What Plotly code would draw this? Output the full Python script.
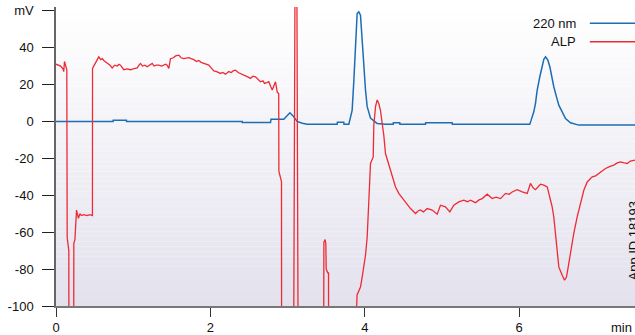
import plotly.graph_objects as go

# ---------------- data ----------------
# 220 nm trace (time in min, signal in mV)
uv_t = [0.0, 0.74, 0.741, 0.913, 0.914, 2.412, 2.413, 2.779, 2.785, 2.951, 2.99, 3.03, 3.07, 3.124, 3.19, 3.254,
        3.642, 3.645, 3.728, 3.73, 3.793, 3.815, 3.836, 3.858, 3.879, 3.901, 3.922, 3.944, 3.966, 3.987, 4.009,
        4.031, 4.074, 4.117, 4.16, 4.268, 4.368, 4.37, 4.453, 4.455, 4.786, 4.788, 5.132, 5.134, 6.137, 6.155,
        6.189, 6.211, 6.233, 6.267, 6.298, 6.319, 6.341, 6.371, 6.397, 6.418, 6.448, 6.483, 6.513, 6.557, 6.6,
        6.664, 6.772, 7.5]
uv_v = [0.0, 0.0, 0.6, 0.6, 0.0, 0.0, -0.6, -0.6, 1.2, 1.2, 3.0, 4.7, 3.0, 0.0, -1.0, -1.5,
        -1.5, -0.5, -0.5, -1.5, -1.5, 2.0, 6.0, 22.0, 44.0, 58.5, 59.4, 57.6, 44.0, 28.7, 17.0,
        8.0, 1.8, 0.3, -1.1, -1.5, -1.5, -0.7, -0.7, -1.5, -1.5, -0.7, -0.7, -1.5, -1.5, 0.7,
        5.2, 9.8, 17.0, 24.2, 29.6, 33.6, 35.0, 33.2, 29.6, 24.2, 18.8, 13.3, 8.8, 5.2, 1.6,
        -0.7, -2.0, -2.0]

# ALP trace (time in min, signal in mV)
alp_t = [0.0, 0.03, 0.06, 0.09, 0.10, 0.11, 0.125, 0.14, 0.145, 0.166, 0.167, 0.23, 0.231, 0.245, 0.266, 0.28,
         0.29, 0.31, 0.33, 0.36, 0.40, 0.44, 0.472, 0.473, 0.49, 0.512, 0.53, 0.554, 0.58, 0.60, 0.619, 0.65,
         0.684, 0.70, 0.728, 0.76, 0.793, 0.815, 0.835, 0.855, 0.878, 0.92, 0.965, 1.00, 1.052, 1.075, 1.095,
         1.12, 1.15, 1.181, 1.21, 1.246, 1.27, 1.30, 1.332, 1.37, 1.418, 1.44, 1.461, 1.483, 1.52, 1.55, 1.591,
         1.62, 1.655, 1.69, 1.72, 1.75, 1.785, 1.82, 1.85, 1.88, 1.915, 1.95, 1.979, 2.01, 2.044, 2.08, 2.131,
         2.16, 2.196, 2.238, 2.27, 2.30, 2.325, 2.36, 2.39, 2.42, 2.455, 2.49, 2.519, 2.55, 2.584, 2.61, 2.649,
         2.68, 2.701, 2.73, 2.756, 2.78, 2.801, 2.82, 2.843, 2.865, 2.885, 2.887, 2.921, 2.922,
         3.08, 3.096, 3.12, 3.135,
         3.468, 3.47, 3.485, 3.495, 3.50, 3.52, 3.53, 3.531,
         3.889, 3.90, 3.944, 3.966, 3.987, 4.009, 4.031, 4.052, 4.074, 4.109, 4.117, 4.139, 4.16, 4.18, 4.203,
         4.225, 4.246, 4.268, 4.311, 4.355, 4.398, 4.44, 4.505, 4.55, 4.592, 4.657, 4.69, 4.72, 4.76, 4.808,
         4.873, 4.938, 4.98, 5.045, 5.101, 5.153, 5.218, 5.282, 5.33, 5.369, 5.434, 5.48, 5.521, 5.585, 5.65,
         5.70, 5.758, 5.823, 5.87, 5.909, 5.974, 6.039, 6.104, 6.146, 6.18, 6.211, 6.276, 6.319, 6.363, 6.406,
         6.427, 6.448, 6.47, 6.492, 6.513, 6.557, 6.587, 6.613, 6.642, 6.664, 6.707, 6.751, 6.794, 6.837, 6.881,
         6.946, 6.99, 7.031, 7.07, 7.118, 7.17, 7.225, 7.27, 7.312, 7.36, 7.40, 7.44, 7.485, 7.5]
alp_v = [31.0, 30.5, 30.0, 28.5, 27.0, 32.5, 30.0, 28.0, -63.0, -70.0, -106.0, -106.0, -66.0, -64.0, -48.0, -50.0,
         -52.5, -50.0, -51.0, -50.5, -51.0, -50.5, -51.0, 28.7, 30.0, 32.3, 33.0, 35.0, 33.5, 34.0, 33.0, 32.0,
         31.4, 30.5, 29.0, 30.5, 30.0, 31.0, 30.5, 29.5, 28.0, 28.5, 28.0, 28.5, 29.0, 30.5, 31.4,
         30.0, 30.5, 29.6, 30.5, 31.4, 30.0, 30.5, 30.5, 30.0, 31.0, 30.5, 28.7, 34.0, 34.5, 35.5, 35.9,
         34.5, 34.0, 34.5, 34.6, 34.0, 33.5, 32.5, 33.0, 32.0, 31.4, 31.0, 30.5, 29.0, 27.4, 27.0, 26.0,
         26.5, 25.6, 27.0, 26.5, 27.5, 27.8, 26.5, 26.0, 25.5, 25.0, 24.0, 23.3, 24.5, 24.2, 23.0, 21.5,
         22.0, 20.6, 21.0, 21.5, 19.0, 17.0, 19.0, 21.5, 16.0, 15.0, -27.0, -32.7, -106.0,
         -106.0, 75.0, 75.0, -106.0,
         -106.0, -65.5, -64.0, -66.0, -80.0, -82.0, -82.0, -106.0,
         -106.0, -94.0, -89.7, -84.3, -78.5, -72.5, -62.6, -43.6, -22.8, -19.2, -2.0, 8.0, 11.6, 9.8, 6.0,
         -1.0, -7.4, -17.4, -23.7, -30.0, -35.5, -39.0, -42.7, -45.0, -47.2, -49.9, -48.5, -48.0, -49.0, -47.2,
         -48.0, -50.3, -45.4, -46.3, -49.0, -45.4, -43.6, -42.7, -43.5, -42.7, -44.0, -42.5, -41.8, -39.4, -41.8,
         -41.0, -41.8, -39.0, -39.5, -38.2, -37.0, -38.2, -39.0, -33.6, -36.0, -37.0, -34.0, -34.5, -35.5, -42.7,
         -46.3, -51.7, -60.7, -69.8, -78.8, -83.4, -86.0, -84.3, -77.0, -69.8, -60.7, -51.7, -44.5, -37.3, -32.8,
         -30.0, -29.5, -28.2, -27.0, -25.5, -24.5, -23.7, -22.5, -21.9, -22.5, -22.8, -21.5, -21.0, -21.0]

x_ticks = [0, 2, 4, 6]
x_labels = ["0", "2", "4", "6"]
y_ticks = [-100, -80, -60, -40, -20, 0, 20, 40, 60]
y_labels = ["-100", "-80", "-60", "-40", "-20", "0", "20", "40", "mV"]

BLUE = "#1c6db4"
RED = "#ee2a35"
FONT = "Liberation Sans, Arial, sans-serif"

fig = go.Figure()
fig.add_trace(go.Scatter(x=uv_t, y=uv_v, mode="lines", name="220 nm",
                         line=dict(color=BLUE, width=1.5), showlegend=False))
fig.add_trace(go.Scatter(x=alp_t, y=alp_v, mode="lines", name="ALP",
                         line=dict(color=RED, width=1.3), showlegend=False))

# plot-area background gradient (white at top to pale lavender at bottom)
shapes = []
N = 60
top = (255, 255, 255)
bot = (227, 225, 237)
for i in range(N):
    f = (i + 0.5) / N  # 0 at bottom, 1 at top
    c = tuple(round(bot[k] + (top[k] - bot[k]) * f) for k in range(3))
    shapes.append(dict(type="rect", xref="paper", yref="paper", x0=0, x1=1,
                       y0=i / N, y1=(i + 1) / N, layer="below",
                       line=dict(width=0), fillcolor="rgb(%d,%d,%d)" % c))

# legend-style swatches (text placed to the left of the line)
shapes.append(dict(type="line", xref="paper", yref="paper", x0=0.922, x1=1.02, y0=0.9455, y1=0.9455,
                   line=dict(color=BLUE, width=1.5)))
shapes.append(dict(type="line", xref="paper", yref="paper", x0=0.922, x1=1.02, y0=0.884, y1=0.884,
                   line=dict(color=RED, width=1.5)))

annotations = [
    dict(text="220 nm", xref="paper", yref="paper", x=0.901, y=0.945, xanchor="right", yanchor="middle",
         showarrow=False, font=dict(size=13, color="#111", family=FONT)),
    dict(text="ALP", xref="paper", yref="paper", x=0.901, y=0.885, xanchor="right", yanchor="middle",
         showarrow=False, font=dict(size=13, color="#111", family=FONT)),
    dict(text="min", xref="paper", yref="paper", x=0.976, y=-0.072, xanchor="center", yanchor="middle",
         showarrow=False, font=dict(size=13, color="#111", family=FONT)),
    dict(text="App ID 18193", xref="paper", yref="paper", x=0.997, y=0.22, xanchor="center", yanchor="middle",
         textangle=-90, showarrow=False, font=dict(size=13, color="#111", family=FONT)),
]

fig.update_layout(
    width=635, height=335, autosize=False,
    margin=dict(l=56, r=0, t=7, b=29, pad=0),
    paper_bgcolor="white", plot_bgcolor="rgba(0,0,0,0)",
    font=dict(family=FONT, size=13, color="#111"),
    shapes=shapes, annotations=annotations, showlegend=False,
)
fig.update_xaxes(range=[0, 7.5], tickvals=x_ticks, ticktext=x_labels, showgrid=False, zeroline=False,
                 showline=True, linecolor="#777", linewidth=1.5, ticks="outside", ticklen=9,
                 tickwidth=1.3, tickcolor="#333", ticklabelstandoff=0, automargin=False)
fig.update_yaxes(range=[-100, 62], tickvals=y_ticks, ticktext=y_labels, showgrid=False, zeroline=False,
                 showline=True, linecolor="#666", linewidth=1.5, ticks="outside", ticklen=12,
                 tickwidth=1.3, tickcolor="#222", ticklabelstandoff=6, automargin=False)

fig.write_html("out.html", config={"displayModeBar": False},
               post_script="document.body.style.margin='0';document.body.style.overflow='hidden';")
